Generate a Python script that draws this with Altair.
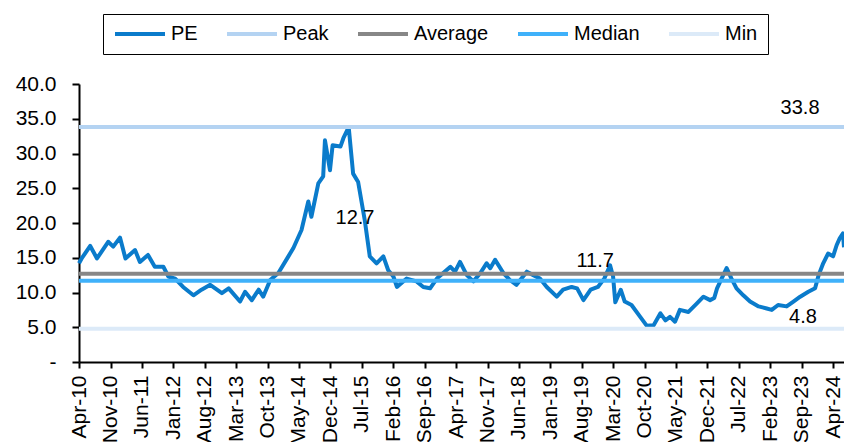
import altair as alt
import pandas as pd

# ---- PE series ----
pe_dates = [
    "2010-04-01", "2010-04-19", "2010-06-16", "2010-08-01", "2010-10-16", "2010-11-19",
    "2011-01-04", "2011-02-10", "2011-04-16", "2011-05-19", "2011-07-13", "2011-08-28",
    "2011-10-25", "2011-11-28", "2012-01-13", "2012-03-07", "2012-05-16", "2012-07-10",
    "2012-09-07", "2012-11-25", "2013-01-10", "2013-03-28", "2013-05-01", "2013-06-16",
    "2013-08-01", "2013-09-01", "2013-10-19", "2013-12-13", "2014-02-19", "2014-03-25",
    "2014-05-19", "2014-07-04", "2014-07-25", "2014-09-10", "2014-10-13", "2014-10-25",
    "2014-11-28", "2014-12-16", "2015-02-07", "2015-02-27", "2015-04-04", "2015-05-04",
    "2015-06-07", "2015-07-22", "2015-08-25", "2015-10-10", "2015-11-25", "2015-12-28",
    "2016-02-01", "2016-02-25", "2016-05-01", "2016-07-07", "2016-08-22", "2016-10-07",
    "2016-11-22", "2017-02-22", "2017-03-25", "2017-04-28", "2017-06-13", "2017-07-28",
    "2017-09-13", "2017-10-25", "2017-11-19", "2017-12-22", "2018-02-16", "2018-04-01",
    "2018-05-16", "2018-07-25", "2018-09-07", "2018-10-22", "2018-12-07", "2019-02-13",
    "2019-03-28", "2019-05-25", "2019-07-01", "2019-08-13", "2019-10-01", "2019-11-19",
    "2020-01-01", "2020-02-10", "2020-03-01", "2020-03-16", "2020-04-22", "2020-05-19",
    "2020-07-04", "2020-09-01", "2020-10-16", "2020-12-01", "2021-01-16", "2021-02-19",
    "2021-03-22", "2021-04-25", "2021-05-28", "2021-07-25", "2021-09-19", "2021-11-04",
    "2021-12-19", "2022-01-16", "2022-02-04", "2022-03-07", "2022-04-10", "2022-05-13",
    "2022-06-16", "2022-08-01", "2022-09-16", "2022-11-13", "2023-01-07", "2023-02-10",
    "2023-03-25", "2023-05-22", "2023-07-07", "2023-08-22", "2023-10-16", "2023-12-01",
    "2023-12-25", "2024-01-25", "2024-02-27", "2024-04-01", "2024-04-25", "2024-05-16",
    "2024-06-07", "2024-06-14",
]
pe_values = [
    14.2, 14.9, 16.7, 14.9, 17.3, 16.6,
    17.9, 14.9, 16.1, 14.4, 15.4, 13.7,
    13.7, 12.3, 12.0, 10.8, 9.6, 10.4,
    11.1, 9.9, 10.6, 8.7, 10.1, 8.9,
    10.4, 9.4, 11.8, 12.8, 15.2, 16.4,
    19.0, 23.1, 20.9, 25.7, 26.7, 31.9,
    27.6, 31.2, 31.0, 32.2, 33.8, 27.1,
    25.9, 20.4, 15.2, 14.2, 15.2, 13.2,
    12.3, 10.8, 12.0, 11.6, 10.8, 10.6,
    12.0, 13.7, 13.0, 14.4, 12.5, 11.6,
    12.8, 14.2, 13.5, 14.7, 12.8, 11.8,
    11.1, 13.0, 12.5, 12.0, 10.8, 9.4,
    10.4, 10.8, 10.6, 8.9, 10.4, 10.8,
    12.0, 13.9, 12.3, 8.6, 10.4, 8.7,
    8.2, 6.5, 5.2, 5.3, 7.0, 6.0,
    6.5, 5.8, 7.5, 7.2, 8.4, 9.4,
    8.9, 9.2, 10.6, 12.0, 13.5, 12.0,
    10.6, 9.6, 8.7, 8.0, 7.7, 7.5,
    8.2, 8.0, 8.7, 9.4, 10.1, 10.6,
    12.5, 14.2, 15.6, 15.2, 16.8, 17.8,
    18.5, 16.5,
]

# ---- reference lines ----
ref_names = ["Peak", "Average", "Median", "Min"]
ref_values = [33.8, 12.7, 11.7, 4.8]

# ---- series order / colours ----
series_names = ["PE", "Peak", "Average", "Median", "Min"]
series_colors = ["#0A7BCB", "#B4D3F2", "#878787", "#3FB1FA", "#DCEAF8"]

# ---- value labels ----
label_texts = ["33.8", "12.7", "11.7", "4.8"]
label_dates = ["2023-08-21", "2015-05-17", "2019-10-31", "2023-09-10"]
label_y = [36.5, 20.7, 14.5, 6.5]

# ---- x axis ticks (every 7 months) ----
tick_dates = pd.date_range("2010-04-01", "2024-04-01", freq="7MS")
x_domain = ["2010-04-01", "2024-06-14"]
y_ticks = [0, 5, 10, 15, 20, 25, 30, 35, 40]

FONT = "Liberation Sans"


def dt(s):
    d = pd.Timestamp(s)
    return alt.DateTime(year=d.year, month=d.month, date=d.day, utc=True)


pe_df = pd.DataFrame({"date": pe_dates, "value": pe_values, "series": "PE"})
ref_df = pd.DataFrame({"series": ref_names, "value": ref_values})
lab_df = pd.DataFrame({"date": label_dates, "y": label_y, "text": label_texts})

color = alt.Color(
    "series:N",
    scale=alt.Scale(domain=series_names, range=series_colors),
    legend=alt.Legend(
        title=None,
        orient="none",
        direction="horizontal",
        legendX=24,
        legendY=-70,
        symbolType="stroke",
        symbolSize=2500,
        symbolStrokeWidth=4,
        clipHeight=20,
        labelFontSize=20,
        labelFont=FONT,
        labelColor="#000000",
        labelOffset=4,
        columnPadding=27,
        padding=10,
        strokeColor="#000000",
        fillColor="#FFFFFF",
        values=series_names,
    ),
)

x_enc = alt.X(
    "date:T",
    scale=alt.Scale(type="utc", domain=[dt(x_domain[0]), dt(x_domain[1])], nice=False),
    axis=alt.Axis(
        values=[alt.DateTime(year=d.year, month=d.month, date=1, utc=True) for d in tick_dates],
        tickCount=40,
        format="%b-%y",
        labelAngle=270,
        labelAlign="right",
        labelBaseline="middle",
        labelFontSize=21,
        labelPadding=7,
        tickSize=6,
        grid=False,
        title=None,
        labelOverlap=False,
    ),
)

y_scale = alt.Scale(domain=[0, 40], nice=False, zero=True)

line = alt.Chart(pe_df).mark_line(strokeWidth=4, strokeJoin="round").encode(
    x=x_enc,
    y=alt.Y(
        "value:Q",
        scale=y_scale,
        axis=alt.Axis(
            values=y_ticks,
            tickCount=20,
            labelExpr="datum.value == 0 ? '-' : format(datum.value, '.1f')",
            labelFontSize=21,
            labelPadding=16,
            labelOverlap=False,
            tickSize=7,
            grid=False,
            title=None,
        ),
    ),
    color=color,
)

rules = alt.Chart(ref_df).mark_rule(strokeWidth=4).encode(
    y=alt.Y("value:Q", scale=y_scale),
    color=color,
)

labels = alt.Chart(lab_df).mark_text(
    fontSize=20, font=FONT, color="#000000", align="center", baseline="middle"
).encode(
    x=alt.X("date:T"),
    y=alt.Y("y:Q", scale=y_scale),
    text="text:N",
)

chart = (
    alt.layer(line, rules, labels)
    .properties(
        width=765,
        height=278,
        autosize=alt.AutoSizeParams(type="none"),
        padding={"left": 79, "top": 84, "right": 0, "bottom": 80},
    )
    .configure(font=FONT, background="#FFFFFF")
    .configure_view(stroke=None)
    .configure_axis(
        domainColor="#000000",
        domainWidth=2,
        tickColor="#000000",
        tickWidth=2,
        labelColor="#000000",
        labelFont=FONT,
    )
)

chart.save("out.html", embed_options={"renderer": "svg", "actions": False})
